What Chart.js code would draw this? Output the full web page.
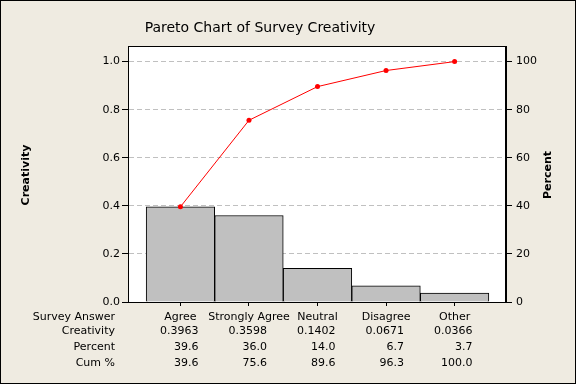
<!DOCTYPE html>
<html>
<head>
<meta charset="utf-8">
<script src="https://cdn.jsdelivr.net/npm/chart.js@4"></script>
<style>
  html, body { margin: 0; padding: 0; background: #EFEBE1; }
  #wrap { width: 576px; height: 384px; }
</style>
</head>
<body>
<div id="wrap"><canvas id="paretoChart" width="576" height="384"></canvas></div>
<script>
// datos del grafico de Pareto
const categories = ["Agree", "Strongly Agree", "Neutral", "Disagree", "Other"];
const creativity = [0.3963, 0.3598, 0.1402, 0.0671, 0.0366];
const percent = [39.6, 36.0, 14.0, 6.7, 3.7];
const cumPercent = [39.6, 75.6, 89.6, 96.3, 100.0];
const rowLabels = ["Survey Answer", "Creativity", "Percent", "Cum %"];
const leftTicks = [0, 0.2, 0.4, 0.6, 0.8, 1.0];
const rightTicks = [0, 20, 40, 60, 80, 100];

const FONT = '"DejaVu Sans", Verdana, sans-serif';
Chart.defaults.font.family = FONT;
Chart.defaults.font.size = 11;
Chart.defaults.color = "#000";

// fondo, marco, titulos y la tabla de abajo
const paretoDecor = {
  id: "paretoDecor",
  beforeDraw(chart) {
    const { ctx, chartArea: a } = chart;
    ctx.save();
    ctx.fillStyle = "#EFEBE1";
    ctx.fillRect(0, 0, chart.width, chart.height);
    ctx.fillStyle = "#fff";
    ctx.fillRect(a.left, a.top, a.right - a.left, a.bottom - a.top);
    ctx.restore();
  },
  afterDraw(chart) {
    const { ctx, chartArea: a } = chart;
    const x = chart.scales.x;
    ctx.save();
    ctx.strokeStyle = "#000";
    ctx.lineWidth = 1;
    ctx.strokeRect(Math.round(a.left) + 0.5, Math.round(a.top) + 0.5,
      Math.round(a.right - a.left) - 1, Math.round(a.bottom - a.top));
    ctx.strokeRect(0.5, 0.5, chart.width - 1, chart.height - 1);

    ctx.fillStyle = "#000";
    ctx.textBaseline = "middle";
    ctx.textAlign = "center";
    ctx.font = "14px " + FONT;
    ctx.fillText("Pareto Chart of Survey Creativity", 260, 28);

    // titulos de ejes (los dos leen de abajo hacia arriba)
    ctx.font = "bold 11px " + FONT;
    [["Creativity", 26], ["Percent", 548]].forEach(([t, cx]) => {
      ctx.save();
      ctx.translate(cx, 175);
      ctx.rotate(-Math.PI / 2);
      ctx.fillText(t, 0, 0);
      ctx.restore();
    });

    // tabla
    ctx.font = "11px " + FONT;
    const rowY = [317, 331, 347, 363];
    ctx.textAlign = "right";
    rowLabels.forEach((t, r) => ctx.fillText(t, 115, rowY[r]));
    categories.forEach((c, i) => {
      const px = x.getPixelForValue(i);
      ctx.textAlign = "center";
      ctx.fillText(c, px, rowY[0]);
      ctx.textAlign = "right";
      ctx.fillText(creativity[i].toFixed(4), px + 18, rowY[1]);
      ctx.fillText(percent[i].toFixed(1), px + 18, rowY[2]);
      ctx.fillText(cumPercent[i].toFixed(1), px + 18, rowY[3]);
    });
    ctx.restore();
  }
};

const ctx = document.getElementById("paretoChart").getContext("2d");
const paretoChart = new Chart(ctx, {
  data: {
    datasets: [
      {
        type: "line",
        label: "Cum %",
        data: cumPercent.map((v, i) => ({ x: i, y: v })),
        yAxisID: "y2",
        borderColor: "#FF0000",
        borderWidth: 1,
        pointRadius: 2.5,
        pointBackgroundColor: "#FF0000",
        pointBorderWidth: 0,
        order: 0,
      },
      {
        type: "bar",
        label: "Creativity",
        data: creativity.map((v, i) => ({ x: i, y: v })),
        yAxisID: "y",
        backgroundColor: "#C0C0C0",
        borderColor: "#000",
        borderWidth: 1,
        barPercentage: 1,
        categoryPercentage: 1,
        order: 1,
      },
    ],
  },
  options: {
    responsive: false,
    animation: false,
    layout: { padding: { top: 46, left: 0, right: 0, bottom: 0 } },
    plugins: {
      legend: { display: false },
      tooltip: { enabled: false },
      title: { display: false },
    },
    scales: {
      x: {
        type: "linear",
        offset: false,
        min: -0.765,
        max: 4.75,
        afterBuildTicks: (s) => { s.ticks = categories.map((c, i) => ({ value: i })); },
        afterFit: (s) => { s.height = 82; },
        ticks: { display: false },
        grid: { offset: false, drawOnChartArea: false, tickLength: 4, tickColor: "#000", tickWidth: 1 },
        border: { color: "#000", width: 1 },
      },
      y: {
        position: "left",
        min: 0,
        max: 1.065,
        afterBuildTicks: (s) => { s.ticks = leftTicks.map((v) => ({ value: v })); },
        afterFit: (s) => { s.width = 128; },
        ticks: { padding: 2, callback: (v) => v.toFixed(1), font: { size: 11 } },
        grid: {
          color: (c) => (c.tick && c.tick.value === 0 ? "rgba(0,0,0,0)" : "#C0C0C0"),
          tickColor: "#000",
          tickLength: 6,
          tickBorderDash: [],
        },
        border: { color: "#000", width: 1, dash: [5, 3] },
      },
      y2: {
        position: "right",
        min: 0,
        max: 106.5,
        afterBuildTicks: (s) => { s.ticks = rightTicks.map((v) => ({ value: v })); },
        afterFit: (s) => { s.width = 70; },
        ticks: { padding: 4, font: { size: 11 } },
        grid: { drawOnChartArea: false, tickColor: "#000", tickLength: 6 },
        border: { color: "#000", width: 1 },
      },
    },
  },
  plugins: [paretoDecor],
});
</script>
</body>
</html>
